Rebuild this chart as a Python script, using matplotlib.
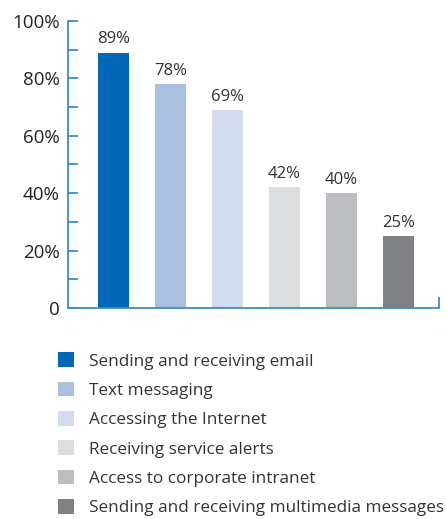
import matplotlib.pyplot as plt
from matplotlib.patches import Patch

plt.rcParams['font.family'] = ['Open Sans', 'DejaVu Sans']

categories = [
    'Sending and receiving email',
    'Text messaging',
    'Accessing the Internet',
    'Receiving service alerts',
    'Access to corporate intranet',
    'Sending and receiving multimedia messages',
]
values = [89, 78, 69, 42, 40, 25]
colors = ['#0068b4', '#abbfe0', '#d3dcef', '#dcdddf', '#bcbdc0', '#808184']
axis_blue = '#3f8bd0'

fig = plt.figure(figsize=(4.47, 5.19), dpi=100)
ax = fig.add_axes([0.152, 0.4066, 0.83, 0.553])

pos = list(range(len(values)))
bars = ax.bar(pos, values, width=0.54, color=colors)
for x, v in zip(pos, values):
    ax.text(x, v + 1.8, f'{v}%', ha='center', va='bottom', fontsize=12, color='#333333')

ax.set_ylim(0, 100)
ax.set_xlim(-0.8, 5.71)
ax.set_yticks([0, 20, 40, 60, 80, 100])
ax.set_yticklabels(['0', '20%', '40%', '60%', '80%', '100%'])
ax.set_yticks([10, 30, 50, 70, 90], minor=True)
ax.set_xticks([5.71])
ax.set_xticklabels([''])

for side in ['top', 'right']:
    ax.spines[side].set_visible(False)
for side in ['left', 'bottom']:
    ax.spines[side].set_color(axis_blue)
    ax.spines[side].set_linewidth(1.3)

ax.tick_params(axis='y', which='both', direction='in', length=7, width=1.3,
               color=axis_blue, labelsize=13.5, labelcolor='#222222', pad=6)
ax.tick_params(axis='x', direction='in', length=8, width=1.3, color=axis_blue)

handles = [Patch(facecolor=c, edgecolor='none') for c in colors]
fig.legend(handles, categories, loc='upper left', bbox_to_anchor=(0.13, 0.321),
           frameon=False, fontsize=12.3, handlelength=0.94, handleheight=0.94,
           handletextpad=0.85, labelspacing=0.71, labelcolor='#333333',
           borderpad=0, borderaxespad=0)

fig.savefig('out.png', dpi=100)
